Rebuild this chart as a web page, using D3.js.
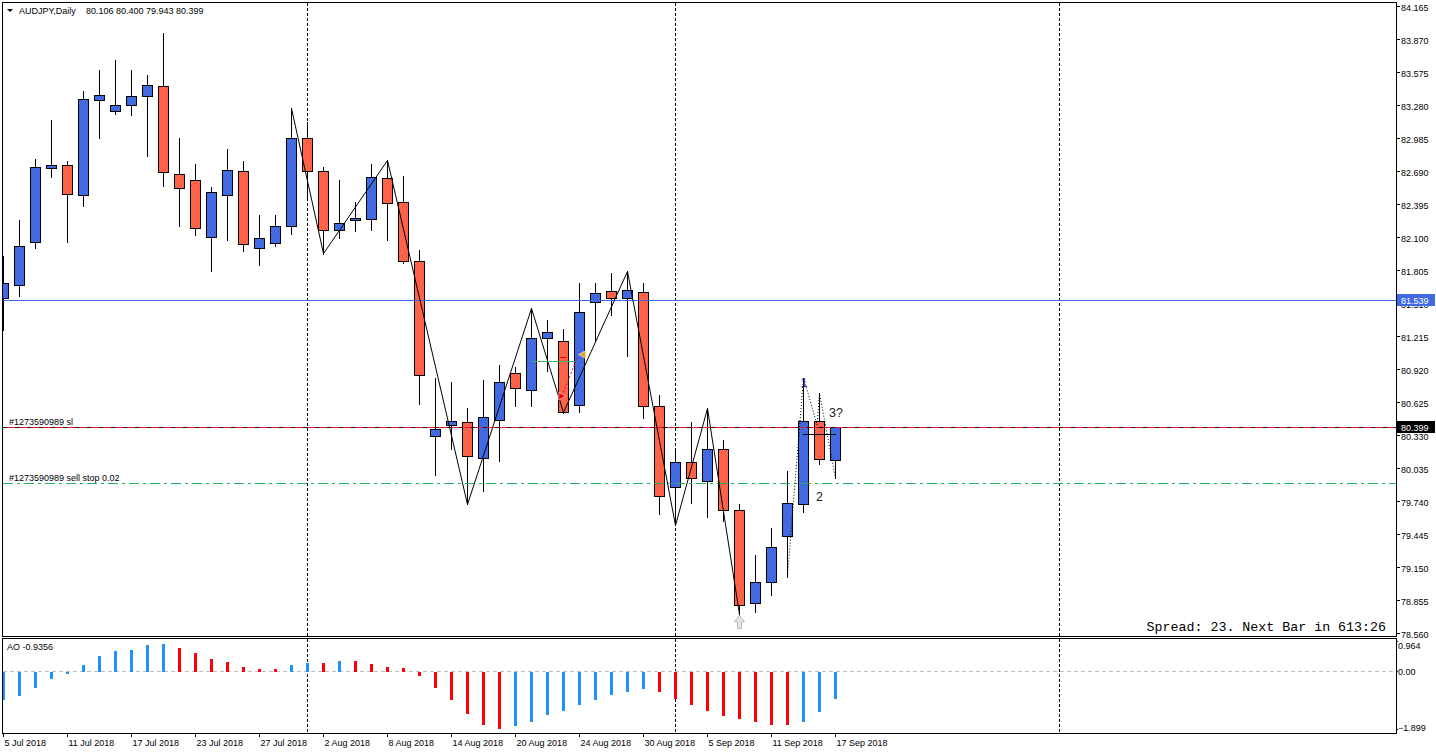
<!DOCTYPE html>
<html>
<head>
<meta charset="utf-8">
<title>AUDJPY,Daily</title>
<script src="https://cdn.jsdelivr.net/npm/d3@7"></script>
<style>
  html, body { margin: 0; padding: 0; background: #fff; overflow: hidden; }
  svg { display: block; }
  text { font-family: 'Liberation Sans', Arial, sans-serif; font-size: 9px; fill: #000; }
</style>
</head>
<body>
<svg id="chart"></svg>
<script>
const width = 1436;
const height = 754;

// daily bars, 5 Jul 2018 .. 17 Sep 2018
const dates = ['5 Jul', '6 Jul', '9 Jul', '10 Jul', '11 Jul', '12 Jul', '13 Jul', '16 Jul', '17 Jul', '18 Jul',
  '19 Jul', '20 Jul', '23 Jul', '24 Jul', '25 Jul', '26 Jul', '27 Jul', '30 Jul', '31 Jul', '1 Aug',
  '2 Aug', '3 Aug', '6 Aug', '7 Aug', '8 Aug', '9 Aug', '10 Aug', '13 Aug', '14 Aug', '15 Aug',
  '16 Aug', '17 Aug', '20 Aug', '21 Aug', '22 Aug', '23 Aug', '24 Aug', '27 Aug', '28 Aug', '29 Aug',
  '30 Aug', '31 Aug', '3 Sep', '4 Sep', '5 Sep', '6 Sep', '7 Sep', '10 Sep', '11 Sep', '12 Sep',
  '13 Sep', '14 Sep', '17 Sep'];

const opens = [81.559, 81.675, 82.051, 82.721, 82.748, 82.471, 83.329, 83.222, 83.276, 83.356,
  83.454, 82.659, 82.614, 82.104, 82.471, 82.694, 82.006, 82.042, 82.194, 82.989,
  82.686, 82.167, 82.256, 82.265, 82.623, 82.417, 81.881, 80.325, 80.415, 80.442,
  80.120, 80.468, 80.880, 80.728, 81.201, 81.166, 80.594, 81.523, 81.613, 81.559,
  81.604, 80.585, 79.861, 80.093, 79.923, 80.209, 79.664, 78.832, 79.020, 79.431,
  79.717, 80.459, 80.106];
const highs = [81.926, 82.256, 82.793, 83.150, 82.775, 83.401, 83.597, 83.678, 83.597, 83.544,
  83.928, 82.989, 82.757, 82.551, 82.891, 82.775, 82.301, 82.301, 83.249, 83.132,
  82.730, 82.614, 82.417, 82.757, 82.784, 82.641, 81.988, 80.844, 80.808, 80.567,
  80.826, 80.960, 80.942, 81.461, 81.362, 81.282, 81.693, 81.693, 81.774, 81.792,
  81.693, 80.692, 80.218, 80.442, 80.567, 80.281, 79.709, 79.253, 79.503, 80.004,
  80.844, 80.701, 80.400];
const lows = [81.273, 81.577, 82.006, 82.632, 82.051, 82.373, 82.981, 83.204, 83.195, 82.820,
  82.560, 82.194, 82.122, 81.792, 82.069, 81.979, 81.854, 82.024, 82.131, 82.462,
  81.952, 82.095, 82.158, 82.167, 82.069, 81.872, 80.611, 79.968, 80.209, 79.709,
  79.825, 80.102, 80.585, 80.585, 80.898, 80.531, 80.540, 81.166, 81.407, 81.032,
  80.486, 79.628, 79.521, 79.726, 79.601, 79.557, 78.725, 78.752, 78.904, 79.065,
  79.646, 80.075, 79.943];
const closes = [81.693, 82.024, 82.730, 82.748, 82.480, 83.338, 83.365, 83.276, 83.356, 83.463,
  82.677, 82.542, 82.176, 82.498, 82.703, 82.033, 82.095, 82.194, 82.989, 82.694,
  82.167, 82.221, 82.274, 82.632, 82.408, 81.881, 80.862, 80.388, 80.451, 80.138,
  80.495, 80.808, 80.754, 81.201, 81.255, 80.540, 81.434, 81.595, 81.559, 81.622,
  80.585, 79.789, 80.093, 79.950, 80.209, 79.664, 78.806, 79.020, 79.333, 79.726,
  80.459, 80.111, 80.399];

// Awesome Oscillator, one value per bar
const aoValues = [-0.956, -0.826, -0.566, -0.273, -0.10, 0.19, 0.46, 0.64, 0.67, 0.83,
  0.865, 0.735, 0.57, 0.38, 0.28, 0.12, 0.06, 0.05, 0.18, 0.25,
  0.24, 0.31, 0.30, 0.21, 0.12, 0.08, -0.18, -0.57, -0.96, -1.41,
  -1.77, -1.899, -1.80, -1.67, -1.44, -1.31, -1.12, -0.96, -0.79, -0.70,
  -0.60, -0.70, -0.92, -1.12, -1.31, -1.48, -1.57, -1.67, -1.77, -1.78,
  -1.67, -1.35, -0.9356];

const priceTicks = [84.165, 83.870, 83.575, 83.280, 82.985, 82.690, 82.395, 82.100, 81.805, 81.510,
  81.215, 80.920, 80.625, 80.330, 80.035, 79.740, 79.445, 79.150, 78.855, 78.560];
const aoTicks = [0.964, 0, -1.899];
const monthStarts = [19, 42, 66]; // bar index of period separators (1 Aug, 3 Sep, 1 Oct)

const bluePrice = 81.539;
const slPrice = 80.399;
const sellStopPrice = 79.900;
const orderId = '#1273590989';

const zigzag = [[18, 'H'], [20, 'L'], [24, 'H'], [29, 'L'], [33, 'H'], [35, 'L'], [39, 'H'], [42, 'L'], [44, 'H'], [46, 'L']];
const wave = [[49, 79.065], [50, 80.844], [50.85, 80.42], [51, 80.701], [52, 79.943]];
const waveLabels = [
  { text: '1', i: 50.06, price: 80.759, color: '#2a1a8a', anchor: 'middle' },
  { text: '2', i: 50.81, price: 79.738, color: '#222', anchor: 'start' },
  { text: '3?', i: 51.63, price: 80.492, color: '#222', anchor: 'start' }
];

const bars = dates.map((d, i) => ({ i, date: d, o: opens[i], h: highs[i], l: lows[i], c: closes[i] }));

const x = d3.scaleLinear().domain([0, 52]).range([3, 835]);
const y = d3.scaleLinear().domain([78.560, 84.165]).range([633, 6]);
const yAO = d3.scaleLinear().domain([-1.899, 0.964]).range([729, 641]);
const crisp = v => Math.round(v) + 0.5;
const fmt3 = d3.format('.3f');

const svg = d3.select('#chart').attr('width', width).attr('height', height);

const defs = svg.append('defs');
defs.append('clipPath').attr('id', 'clipMain')
  .append('rect').attr('x', 3).attr('y', 3).attr('width', 1393).attr('height', 633);
defs.append('clipPath').attr('id', 'clipAO')
  .append('rect').attr('x', 3).attr('y', 639).attr('width', 1393).attr('height', 94);

const main = svg.append('g').attr('clip-path', 'url(#clipMain)');
const sub = svg.append('g').attr('clip-path', 'url(#clipAO)');

// period separators
[[main, 3, 636], [sub, 639, 733]].forEach(([g, y0, y1]) => {
  g.append('g').selectAll('line').data(monthStarts).join('line')
    .attr('x1', d => crisp(x(d))).attr('x2', d => crisp(x(d)))
    .attr('y1', y0).attr('y2', y1)
    .attr('stroke', '#000').attr('stroke-dasharray', '3,2');
});

// candles
main.append('g').selectAll('line').data(bars).join('line')
  .attr('x1', d => crisp(x(d.i))).attr('x2', d => crisp(x(d.i)))
  .attr('y1', d => Math.round(y(d.h))).attr('y2', d => Math.round(y(d.l)) + 1)
  .attr('stroke', '#000');

main.append('g').selectAll('rect').data(bars).join('rect')
  .attr('x', d => Math.round(x(d.i)) - 4.5)
  .attr('y', d => Math.round(y(Math.max(d.o, d.c))) + 0.5)
  .attr('width', 10)
  .attr('height', d => Math.max(1, Math.round(y(Math.min(d.o, d.c))) - Math.round(y(Math.max(d.o, d.c)))))
  .attr('fill', d => d.c >= d.o ? '#4169E1' : '#FF6347')
  .attr('stroke', '#000');

// horizontal levels
main.append('line')
  .attr('x1', 3).attr('x2', 1396).attr('y1', crisp(y(bluePrice))).attr('y2', crisp(y(bluePrice)))
  .attr('stroke', '#4169E1');
main.append('line')
  .attr('x1', 3).attr('x2', 1396).attr('y1', crisp(y(slPrice))).attr('y2', crisp(y(slPrice)))
  .attr('stroke', '#F0103C');
main.append('line')
  .attr('x1', 3).attr('x2', 1396).attr('y1', crisp(y(slPrice))).attr('y2', crisp(y(slPrice)))
  .attr('stroke', '#000').attr('stroke-dasharray', '4,8');
main.append('line')
  .attr('x1', 3).attr('x2', 1396).attr('y1', crisp(y(sellStopPrice))).attr('y2', crisp(y(sellStopPrice)))
  .attr('stroke', '#22B060').attr('stroke-dasharray', '10,4,3,4');

main.append('text').attr('x', 9).attr('y', Math.round(y(slPrice)) - 2).text(`${orderId} sl`);
main.append('text').attr('x', 9).attr('y', Math.round(y(sellStopPrice)) - 2).text(`${orderId} sell stop 0.02`);

// zigzag
const zzPoints = zigzag.map(([i, t]) => [x(i) + 0.5, y(t === 'H' ? highs[i] : lows[i])]);
main.append('path')
  .attr('d', d3.line()(zzPoints))
  .attr('fill', 'none').attr('stroke', '#000').attr('stroke-width', 1);

// wave count (dotted)
main.append('path')
  .attr('d', d3.line().x(d => x(d[0]) + 0.5).y(d => y(d[1]))(wave))
  .attr('fill', 'none').attr('stroke', '#000').attr('stroke-dasharray', '1,2');
main.append('line')
  .attr('x1', x(50)).attr('x2', x(52) + 1)
  .attr('y1', crisp(y(80.343))).attr('y2', crisp(y(80.343)))
  .attr('stroke', '#000');
main.append('g').selectAll('text').data(waveLabels).join('text')
  .attr('x', d => x(d.i)).attr('y', d => y(d.price))
  .attr('text-anchor', d => d.anchor)
  .style('font-size', '12.5px').style('fill', d => d.color)
  .text(d => d.text);

// trade history marks
main.append('line')
  .attr('x1', x(33.04)).attr('x2', x(35.85))
  .attr('y1', crisp(y(80.993))).attr('y2', crisp(y(80.993)))
  .attr('stroke', '#3CB371');
main.append('line')
  .attr('x1', x(34.81)).attr('x2', x(35.23))
  .attr('y1', crisp(y(81.029))).attr('y2', crisp(y(81.029)))
  .attr('stroke', '#FF0000');
main.append('line')
  .attr('x1', x(34.92)).attr('x2', x(35.89))
  .attr('y1', y(80.677)).attr('y2', y(81.020))
  .attr('stroke', '#FF0000').attr('stroke-dasharray', '2,2');
main.append('path')
  .attr('d', `M${x(34.92) - 3},${y(80.677) - 4}l7,4l-7,4z`)
  .attr('fill', '#FF0000').attr('stroke', '#fff').attr('stroke-width', 0.6);
main.append('path')
  .attr('d', `M${x(36.17) - 3},${y(81.049)}l7,-4v8z`)
  .attr('fill', '#DAA520').attr('stroke', '#fff').attr('stroke-width', 0.6);

// fractal arrow below the low of 7 Sep
const fx = x(46) + 0.5;
const fy = y(lows[46]) + 1;
main.append('path')
  .attr('d', `M${fx},${fy}l-5,6h3v7h4v-7h3z`)
  .attr('fill', '#e6e6e6').attr('stroke', '#b8b8b8');

main.append('text')
  .attr('x', 1386).attr('y', 631)
  .attr('text-anchor', 'end')
  .style('font-family', "'Liberation Mono', 'Courier New', monospace")
  .style('font-size', '13.3px')
  .text('Spread: 23. Next Bar in 613:26');

// AO histogram
sub.append('line')
  .attr('x1', 3).attr('x2', 1396).attr('y1', crisp(yAO(0))).attr('y2', crisp(yAO(0)))
  .attr('stroke', '#c0c0c0').attr('stroke-dasharray', '4,3');

const zeroY = Math.round(yAO(0)) + 1;
sub.append('g').selectAll('rect').data(aoValues).join('rect')
  .attr('x', (d, i) => Math.round(x(i)) - 1)
  .attr('width', 3)
  .attr('y', d => d >= 0 ? Math.round(yAO(d)) : zeroY)
  .attr('height', d => d >= 0 ? zeroY - Math.round(yAO(d)) : Math.round(yAO(d)) - zeroY)
  .attr('fill', (d, i) => (i === 0 || d > aoValues[i - 1]) ? '#1E90FF' : '#FF0000');

sub.append('text').attr('x', 7).attr('y', 650).text(`AO ${aoValues[aoValues.length - 1]}`);

// panel frames
svg.append('rect').attr('x', 2.5).attr('y', 2.5).attr('width', 1394).attr('height', 634)
  .attr('fill', 'none').attr('stroke', '#000');
svg.append('rect').attr('x', 2.5).attr('y', 638.5).attr('width', 1394).attr('height', 95)
  .attr('fill', 'none').attr('stroke', '#000');

// price axis
svg.append('g')
  .attr('transform', 'translate(1396,0)')
  .call(d3.axisRight(y).tickValues(priceTicks).tickFormat(fmt3).tickSize(4).tickPadding(1))
  .call(g => g.select('.domain').remove())
  .call(g => g.selectAll('line').attr('stroke', '#000'))
  .call(g => g.selectAll('text').attr('dy', '0.45em'));

// current-price and line labels on the axis
[[bluePrice, '#4169E1'], [slPrice, '#000']].forEach(([p, color]) => {
  const py = Math.round(y(p));
  svg.append('rect').attr('x', 1397).attr('y', py - 6).attr('width', 38).attr('height', 12).attr('fill', color);
  svg.append('text').attr('x', 1401).attr('y', py + 4).style('fill', '#fff').text(fmt3(p));
});

// AO axis
svg.append('g')
  .attr('transform', 'translate(1396,0)')
  .call(d3.axisRight(yAO).tickValues(aoTicks).tickFormat(d => d === 0 ? '0.00' : fmt3(d)).tickSize(2).tickPadding(0))
  .call(g => g.select('.domain').remove())
  .call(g => g.selectAll('line').attr('stroke', '#000'))
  .call(g => g.selectAll('text').attr('dy', d => d > 0 ? 7.5 : d < 0 ? 1.5 : 3.9));

// date axis
svg.append('g')
  .attr('transform', 'translate(0,733)')
  .call(d3.axisBottom(x).tickValues(d3.range(0, dates.length, 4)).tickFormat(i => `${dates[i]} 2018`).tickSize(4).tickPadding(3))
  .call(g => g.select('.domain').remove())
  .call(g => g.selectAll('line').attr('stroke', '#000'))
  .call(g => g.selectAll('text').attr('text-anchor', 'start').attr('x', 1));

// header
svg.append('path').attr('d', 'M7,9h6l-3,3z').attr('fill', '#000');
svg.append('text').attr('x', 19).attr('y', 14).text('AUDJPY,Daily');
svg.append('text').attr('x', 86).attr('y', 14)
  .text([opens, highs, lows, closes].map(a => fmt3(a[a.length - 1])).join(' '));
</script>
</body>
</html>
